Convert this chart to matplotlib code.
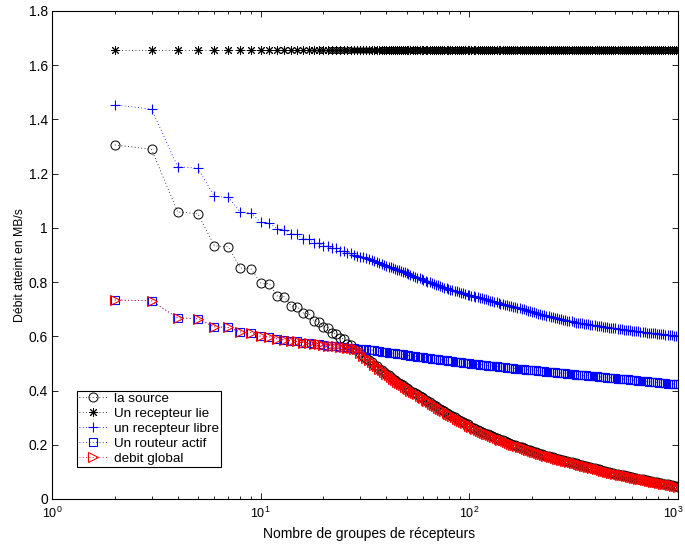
import matplotlib
matplotlib.use("Agg")
import matplotlib.pyplot as plt
from matplotlib.ticker import FixedLocator, FormatStrFormatter, LogLocator, NullFormatter, LogFormatterSciNotation
from matplotlib.transforms import ScaledTranslation

plt.rcParams['font.family'] = ['Liberation Sans', 'DejaVu Sans']
plt.rcParams['mathtext.fontset'] = 'custom'
plt.rcParams['mathtext.rm'] = 'Liberation Sans'
plt.rcParams['mathtext.it'] = 'Liberation Sans:italic'
plt.rcParams['mathtext.bf'] = 'Liberation Sans:bold'

# x : nombre de groupes de recepteurs (positions sampled along the chart)
x_groups = [2, 3, 4, 5, 6, 7, 8, 9, 10, 11, 12, 13, 14, 15, 16, 17, 18, 19, 20, 21,
            22, 23, 24, 25, 26, 27, 28, 29, 30, 31, 32, 33, 34, 35, 36, 37, 38, 39, 40,
            41, 42, 43, 44, 45, 46, 47, 48, 49, 50,
            51, 52, 54, 55, 56, 58, 59, 60, 62, 63,
            65, 66, 68, 69, 71, 72, 74, 76, 78, 79,
            81, 83, 85, 87, 89, 91, 93, 95, 98, 100,
            102, 105, 107, 110, 112, 115, 117, 120, 123, 126,
            129, 132, 135, 138, 141, 145, 148, 151, 155, 158,
            162, 166, 170, 174, 178, 182, 186, 191, 195, 200,
            204, 209, 214, 219, 224, 229, 234, 240, 245, 251,
            257, 263, 269, 275, 282, 288, 295, 302, 309, 316,
            324, 331, 339, 347, 355, 363, 372, 380, 389, 398,
            407, 417, 427, 437, 447, 457, 468, 479, 490, 501,
            513, 525, 537, 550, 562, 575, 589, 603, 617, 631,
            646, 661, 676, 692, 708, 724, 741, 759, 776, 794,
            813, 832, 851, 871, 891, 912, 933, 955, 977, 1000]

la_source = [1.306, 1.290, 1.059, 1.052, 0.934, 0.930, 0.852, 0.848, 0.797, 0.794,
             0.749, 0.746, 0.712, 0.709, 0.686, 0.683, 0.657, 0.654, 0.635, 0.632,
             0.613, 0.610, 0.594, 0.591, 0.572, 0.569, 0.555, 0.552, 0.537,
             0.529, 0.520, 0.512, 0.504, 0.496, 0.489, 0.481, 0.474, 0.468, 0.462,
             0.456, 0.450, 0.444, 0.439, 0.433, 0.428, 0.423, 0.419, 0.414, 0.410,
             0.405, 0.400, 0.396, 0.391, 0.386, 0.381, 0.376, 0.371, 0.366, 0.361,
             0.356, 0.351, 0.347, 0.342, 0.337, 0.332, 0.328, 0.323, 0.319, 0.314,
             0.310, 0.305, 0.301, 0.296, 0.292, 0.288, 0.284, 0.279, 0.275, 0.271,
             0.267, 0.263, 0.260, 0.256, 0.252, 0.248, 0.245, 0.241, 0.238, 0.235,
             0.231, 0.228, 0.225, 0.222, 0.219, 0.216, 0.213, 0.210, 0.207, 0.204,
             0.201, 0.198, 0.196, 0.193, 0.190, 0.187, 0.185, 0.182, 0.180, 0.177,
             0.175, 0.172, 0.170, 0.167, 0.165, 0.163, 0.160, 0.158, 0.156, 0.154,
             0.151, 0.149, 0.147, 0.145, 0.143, 0.141, 0.139, 0.137, 0.135, 0.133,
             0.131, 0.129, 0.127, 0.125, 0.123, 0.121, 0.119, 0.117, 0.115, 0.113,
             0.111, 0.109, 0.107, 0.105, 0.103, 0.101, 0.099, 0.097, 0.096, 0.094,
             0.092, 0.090, 0.089, 0.087, 0.085, 0.083, 0.082, 0.080, 0.079, 0.077,
             0.075, 0.073, 0.072, 0.070, 0.069, 0.067, 0.066, 0.064, 0.063, 0.061,
             0.060, 0.058, 0.057, 0.055, 0.054, 0.052, 0.051, 0.049, 0.048, 0.046]

recepteur_lie = [1.655, 1.655, 1.655, 1.655, 1.655, 1.655, 1.655, 1.655, 1.655, 1.655,
                 1.655, 1.655, 1.655, 1.655, 1.655, 1.655, 1.655, 1.655, 1.655, 1.655,
                 1.655, 1.655, 1.655, 1.655, 1.655, 1.655, 1.655, 1.655, 1.655,
                 1.655, 1.655, 1.655, 1.655, 1.655, 1.655, 1.655, 1.655, 1.655, 1.655,
                 1.655, 1.655, 1.655, 1.655, 1.655, 1.655, 1.655, 1.655, 1.655, 1.655,
                 1.655, 1.655, 1.655, 1.655, 1.655, 1.655, 1.655, 1.655, 1.655, 1.655,
                 1.655, 1.655, 1.655, 1.655, 1.655, 1.655, 1.655, 1.655, 1.655, 1.655,
                 1.655, 1.655, 1.655, 1.655, 1.655, 1.655, 1.655, 1.655, 1.655, 1.655,
                 1.655, 1.655, 1.655, 1.655, 1.655, 1.655, 1.655, 1.655, 1.655, 1.655,
                 1.655, 1.655, 1.655, 1.655, 1.655, 1.655, 1.655, 1.655, 1.655, 1.655,
                 1.655, 1.655, 1.655, 1.655, 1.655, 1.655, 1.655, 1.655, 1.655, 1.655,
                 1.655, 1.655, 1.655, 1.655, 1.655, 1.655, 1.655, 1.655, 1.655, 1.655,
                 1.655, 1.655, 1.655, 1.655, 1.655, 1.655, 1.655, 1.655, 1.655, 1.655,
                 1.655, 1.655, 1.655, 1.655, 1.655, 1.655, 1.655, 1.655, 1.655, 1.655,
                 1.655, 1.655, 1.655, 1.655, 1.655, 1.655, 1.655, 1.655, 1.655, 1.655,
                 1.655, 1.655, 1.655, 1.655, 1.655, 1.655, 1.655, 1.655, 1.655, 1.655,
                 1.655, 1.655, 1.655, 1.655, 1.655, 1.655, 1.655, 1.655, 1.655, 1.655,
                 1.655, 1.655, 1.655, 1.655, 1.655, 1.655, 1.655, 1.655, 1.655, 1.655]

recepteur_libre = [1.454, 1.438, 1.226, 1.220, 1.116, 1.113, 1.058, 1.056, 1.020, 1.018,
                   0.996, 0.994, 0.978, 0.976, 0.960, 0.958, 0.946, 0.944, 0.934, 0.932,
                   0.926, 0.924, 0.916, 0.914, 0.909, 0.907, 0.900, 0.898, 0.894,
                   0.891, 0.888, 0.884, 0.880, 0.877, 0.873, 0.870, 0.867, 0.863, 0.860,
                   0.857, 0.854, 0.852, 0.849, 0.846, 0.843, 0.841, 0.838, 0.836, 0.833,
                   0.830, 0.826, 0.823, 0.820, 0.817, 0.814, 0.811, 0.808, 0.805, 0.802,
                   0.800, 0.797, 0.794, 0.791, 0.789, 0.786, 0.783, 0.780, 0.778, 0.775,
                   0.772, 0.770, 0.768, 0.766, 0.763, 0.761, 0.759, 0.757, 0.754, 0.752,
                   0.750, 0.748, 0.746, 0.744, 0.742, 0.740, 0.738, 0.736, 0.733, 0.731,
                   0.729, 0.727, 0.725, 0.723, 0.721, 0.719, 0.717, 0.715, 0.713, 0.711,
                   0.709, 0.707, 0.705, 0.703, 0.701, 0.699, 0.696, 0.694, 0.692, 0.690,
                   0.688, 0.686, 0.684, 0.682, 0.680, 0.678, 0.676, 0.674, 0.672, 0.670,
                   0.668, 0.667, 0.665, 0.663, 0.661, 0.660, 0.658, 0.656, 0.655, 0.653,
                   0.651, 0.650, 0.649, 0.648, 0.646, 0.645, 0.644, 0.643, 0.641, 0.640,
                   0.639, 0.638, 0.637, 0.636, 0.634, 0.633, 0.632, 0.631, 0.630, 0.629,
                   0.628, 0.627, 0.626, 0.625, 0.624, 0.623, 0.622, 0.621, 0.620, 0.619,
                   0.618, 0.617, 0.616, 0.615, 0.614, 0.614, 0.613, 0.612, 0.611, 0.610,
                   0.609, 0.608, 0.607, 0.606, 0.605, 0.605, 0.604, 0.603, 0.602, 0.601]

routeur_actif = [0.734, 0.731, 0.668, 0.665, 0.635, 0.633, 0.616, 0.614, 0.600, 0.598,
                 0.590, 0.588, 0.583, 0.581, 0.577, 0.575, 0.572, 0.570, 0.568, 0.566,
                 0.564, 0.563, 0.561, 0.560, 0.558, 0.557, 0.556, 0.555, 0.554,
                 0.553, 0.552, 0.550, 0.549, 0.548, 0.546, 0.545, 0.544, 0.543, 0.541,
                 0.540, 0.539, 0.538, 0.537, 0.536, 0.535, 0.534, 0.533, 0.532, 0.531,
                 0.530, 0.528, 0.527, 0.526, 0.525, 0.524, 0.523, 0.522, 0.521, 0.520,
                 0.519, 0.518, 0.517, 0.516, 0.515, 0.514, 0.513, 0.512, 0.511, 0.510,
                 0.509, 0.508, 0.507, 0.506, 0.505, 0.504, 0.503, 0.502, 0.501, 0.500,
                 0.499, 0.498, 0.498, 0.497, 0.496, 0.495, 0.494, 0.493, 0.492, 0.491,
                 0.491, 0.490, 0.489, 0.488, 0.487, 0.486, 0.486, 0.485, 0.484, 0.483,
                 0.482, 0.481, 0.481, 0.480, 0.479, 0.478, 0.477, 0.477, 0.476, 0.475,
                 0.474, 0.474, 0.473, 0.472, 0.471, 0.471, 0.470, 0.469, 0.468, 0.468,
                 0.467, 0.466, 0.465, 0.465, 0.464, 0.463, 0.462, 0.462, 0.461, 0.460,
                 0.459, 0.459, 0.458, 0.457, 0.456, 0.456, 0.455, 0.454, 0.453, 0.453,
                 0.452, 0.451, 0.450, 0.450, 0.449, 0.448, 0.447, 0.447, 0.446, 0.445,
                 0.444, 0.444, 0.443, 0.442, 0.441, 0.441, 0.440, 0.439, 0.438, 0.438,
                 0.437, 0.436, 0.435, 0.435, 0.434, 0.433, 0.432, 0.432, 0.431, 0.430,
                 0.429, 0.429, 0.428, 0.427, 0.426, 0.426, 0.425, 0.424, 0.424, 0.423]

debit_global = [0.734, 0.731, 0.668, 0.665, 0.635, 0.633, 0.616, 0.614, 0.600, 0.598,
                0.590, 0.588, 0.583, 0.581, 0.577, 0.575, 0.572, 0.570, 0.568, 0.566,
                0.564, 0.563, 0.561, 0.560, 0.558, 0.557, 0.555, 0.552, 0.537,
                0.529, 0.520, 0.512, 0.504, 0.496, 0.489, 0.481, 0.474, 0.468, 0.462,
                0.456, 0.450, 0.444, 0.439, 0.433, 0.428, 0.423, 0.419, 0.414, 0.410,
                0.405, 0.400, 0.396, 0.391, 0.386, 0.381, 0.376, 0.371, 0.366, 0.361,
                0.356, 0.351, 0.347, 0.342, 0.337, 0.332, 0.328, 0.323, 0.319, 0.314,
                0.310, 0.305, 0.301, 0.296, 0.292, 0.288, 0.284, 0.279, 0.275, 0.271,
                0.267, 0.263, 0.260, 0.256, 0.252, 0.248, 0.245, 0.241, 0.238, 0.235,
                0.231, 0.228, 0.225, 0.222, 0.219, 0.216, 0.213, 0.210, 0.207, 0.204,
                0.201, 0.198, 0.196, 0.193, 0.190, 0.187, 0.185, 0.182, 0.180, 0.177,
                0.175, 0.172, 0.170, 0.167, 0.165, 0.163, 0.160, 0.158, 0.156, 0.154,
                0.151, 0.149, 0.147, 0.145, 0.143, 0.141, 0.139, 0.137, 0.135, 0.133,
                0.131, 0.129, 0.127, 0.125, 0.123, 0.121, 0.119, 0.117, 0.115, 0.113,
                0.111, 0.109, 0.107, 0.105, 0.103, 0.101, 0.099, 0.097, 0.096, 0.094,
                0.092, 0.090, 0.089, 0.087, 0.085, 0.083, 0.082, 0.080, 0.079, 0.077,
                0.075, 0.073, 0.072, 0.070, 0.069, 0.067, 0.066, 0.064, 0.063, 0.061,
                0.060, 0.058, 0.057, 0.055, 0.054, 0.052, 0.051, 0.049, 0.048, 0.046]

labels = ['la source', 'Un recepteur lie', 'un recepteur libre', 'Un routeur actif', 'debit global']
y_ticks = [0, 0.2, 0.4, 0.6, 0.8, 1.0, 1.2, 1.4, 1.6, 1.8]
x_ticks = [1, 10, 100, 1000]

fig = plt.figure(figsize=(6.85, 5.48), dpi=100)
ax = fig.add_axes([52 / 685, 49 / 548, 626 / 685, 488 / 548])

ls = (0, (1, 3))
lw = 0.6
ax.plot(x_groups, la_source, linestyle=ls, linewidth=lw, color='k', marker='o',
        markersize=6.5, markerfacecolor='none', markeredgecolor='k', markeredgewidth=0.7,
        label=labels[0])
ax.plot(x_groups, recepteur_lie, linestyle=ls, linewidth=lw, color='k', marker=(8, 2, 0),
        markersize=6.5, markeredgecolor='k', markeredgewidth=0.7, label=labels[1])
ax.plot(x_groups, recepteur_libre, linestyle=ls, linewidth=lw, color='b', marker='+',
        markersize=7.5, markeredgecolor='b', markeredgewidth=0.8, label=labels[2])
ax.plot(x_groups, routeur_actif, linestyle=ls, linewidth=lw, color='b', marker='s',
        markersize=5.4, markerfacecolor='none', markeredgecolor='b', markeredgewidth=0.8,
        label=labels[3])
ax.plot(x_groups, debit_global, linestyle=ls, linewidth=lw, color='r', marker='>',
        markersize=6.5, markerfacecolor='none', markeredgecolor='r', markeredgewidth=0.8,
        label=labels[4])

ax.set_xscale('log')
ax.set_xlim(1, 1000)
ax.set_ylim(0, 1.8)
ax.yaxis.set_major_locator(FixedLocator(y_ticks))
ax.yaxis.set_major_formatter(FormatStrFormatter('%g'))
ax.xaxis.set_major_locator(FixedLocator(x_ticks))
ax.xaxis.set_major_formatter(LogFormatterSciNotation(base=10))
ax.xaxis.set_minor_locator(LogLocator(base=10, subs=[2, 3, 4, 5, 6, 7, 8, 9], numticks=10))
ax.xaxis.set_minor_formatter(NullFormatter())

ax.tick_params(axis='both', which='both', direction='in', top=True, right=True,
               width=0.6, colors='k')
ax.tick_params(axis='both', which='major', length=4)
ax.tick_params(axis='x', which='minor', length=2.5)
ax.tick_params(axis='y', labelsize=10, pad=3)
ax.tick_params(axis='x', labelsize=9, pad=5)
for s in ax.spines.values():
    s.set_linewidth(0.8)

ax.set_xlabel('Nombre de groupes de récepteurs', fontsize=10)
ax.xaxis.set_label_coords(0.507, -0.058)
ax.set_ylabel('Débit atteint en MB/s', fontsize=8.8)
ax.yaxis.set_label_coords(-0.042, 0.48)

leg = ax.legend(loc='lower left', bbox_to_anchor=(0.040, 0.066), fontsize=9.7,
                frameon=True, fancybox=False, edgecolor='k', framealpha=1,
                borderpad=0.12, labelspacing=0.2, handlelength=2.2, handletextpad=0.45,
                borderaxespad=0)
leg.get_frame().set_linewidth(0.8)

fig.canvas.draw()
last_tick = ax.xaxis.get_major_ticks()[-1]
last_tick.label1.set_transform(last_tick.label1.get_transform()
                               + ScaledTranslation(-5 / 100, 0, fig.dpi_scale_trans))

fig.savefig('out.png', dpi=100)
